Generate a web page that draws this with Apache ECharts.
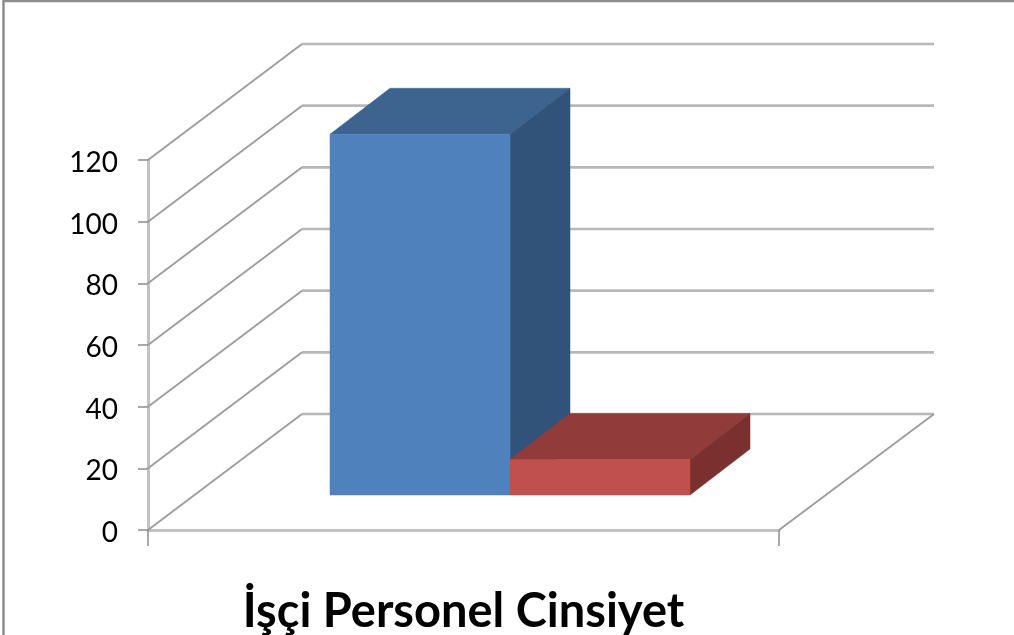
<!DOCTYPE html>
<html><head><meta charset="utf-8">
<style>html,body{margin:0;padding:0;background:#fff;overflow:hidden}#c{width:1014px;height:635px;filter:blur(0.6px)}</style>
<script src="https://cdn.jsdelivr.net/npm/echarts@6/dist/echarts.min.js"></script>
</head><body><div id="c"></div>
<script>
const categories = ['İşçi Personel Cinsiyet'];
const yTicks = [0, 20, 40, 60, 80, 100, 120];
const blueValues = [117];
const redValues = [11.5];

const WALL_DX = 154, WALL_DY = 116;
const BAR_DX = 60, BAR_DY = 46;
const FRONT_DX = 46, FRONT_DY = 35, GAP = 136, BAR_W = 180;

const chart = echarts.init(document.getElementById('c'));

function gridItem(params, api) {
  const v = api.value(1);
  const p = api.coord([0, v]);
  const w = api.size([1, 0])[0];
  const x0 = p[0] - w / 2, x1 = p[0] + w / 2, y = p[1];
  const diag = {stroke: '#9c9c9c', lineWidth: 1.8, fill: null};
  const horiz = {stroke: '#b8b8b8', lineWidth: 2.6, fill: null};
  const kids = [
    {type: 'line', shape: {x1: x0, y1: y, x2: x0 + WALL_DX, y2: y - WALL_DY}, style: diag},
    {type: 'line', shape: {x1: x0 + WALL_DX, y1: y - WALL_DY, x2: x1 + WALL_DX + 1, y2: y - WALL_DY}, style: horiz}
  ];
  if (v === 0) kids.push({type: 'line', shape: {x1: x1, y1: y, x2: x1 + WALL_DX + 1, y2: y - WALL_DY}, style: diag});
  return {type: 'group', children: kids};
}

function barItem(index, front, top, side) {
  return function (params, api) {
    const p = api.coord([api.value(0), api.value(1)]);
    const base = api.coord([api.value(0), 0]);
    const w = api.size([1, 0])[0];
    const l = p[0] - w / 2 + FRONT_DX + GAP + BAR_W * index;
    const r = l + BAR_W;
    const t = p[1] - FRONT_DY, b = base[1] - FRONT_DY;
    const poly = (pts, fill) => ({type: 'polygon', shape: {points: pts}, style: {fill: fill, stroke: fill, lineWidth: 0.5}});
    return {type: 'group', children: [
      poly([[l, t], [l + BAR_DX, t - BAR_DY], [r + BAR_DX, t - BAR_DY], [r, t]], top),
      poly([[r, t], [r + BAR_DX, t - BAR_DY], [r + BAR_DX, b - BAR_DY], [r, b]], side),
      poly([[l, t], [r, t], [r, b], [l, b]], front)
    ]};
  };
}

chart.setOption({
  animation: false,
  backgroundColor: '#fff',
  graphic: [{type: 'polyline', silent: true, z: 100,
    shape: {points: [[3.5, 635], [3.5, 1], [1014, 1]]},
    style: {stroke: '#8e8e8e', lineWidth: 2.5, fill: null}}],
  grid: {left: 148, right: 235, top: 160, bottom: 105},
  xAxis: {
    type: 'category', data: categories, boundaryGap: true,
    axisLine: {lineStyle: {color: '#c2c2c2', width: 3}},
    axisTick: {show: true, alignWithLabel: false, length: 16, lineStyle: {color: '#8c8c8c', width: 1.5}},
    axisLabel: {color: '#000', fontFamily: 'Lato', fontWeight: 'bold', fontSize: 47, margin: 58, interval: 0}
  },
  yAxis: {
    type: 'value', min: 0, max: 120, interval: 20,
    axisLine: {show: true, lineStyle: {color: '#c2c2c2', width: 3}},
    axisTick: {show: true, length: 10, lineStyle: {color: '#8c8c8c', width: 1.5}},
    axisLabel: {color: '#000', fontFamily: 'Lato', fontSize: 28, margin: 30, verticalAlign: 'top', lineHeight: 6, formatter: v => String(v)},
    splitLine: {show: false}
  },
  series: [
    {type: 'custom', name: 'Izgara', silent: true, z: 1, renderItem: gridItem,
     encode: {x: 0, y: 1}, data: yTicks.map(v => [0, v])},
    {type: 'custom', name: 'Seri 1', z: 2, renderItem: barItem(0, '#4f81bd', '#3d638f', '#315379'),
     encode: {x: 0, y: 1}, data: blueValues.map((v, i) => [i, v])},
    {type: 'custom', name: 'Seri 2', z: 3, renderItem: barItem(1, '#c0504d', '#913c3a', '#7a302e'),
     encode: {x: 0, y: 1}, data: redValues.map((v, i) => [i, v])}
  ]
});
</script></body></html>
